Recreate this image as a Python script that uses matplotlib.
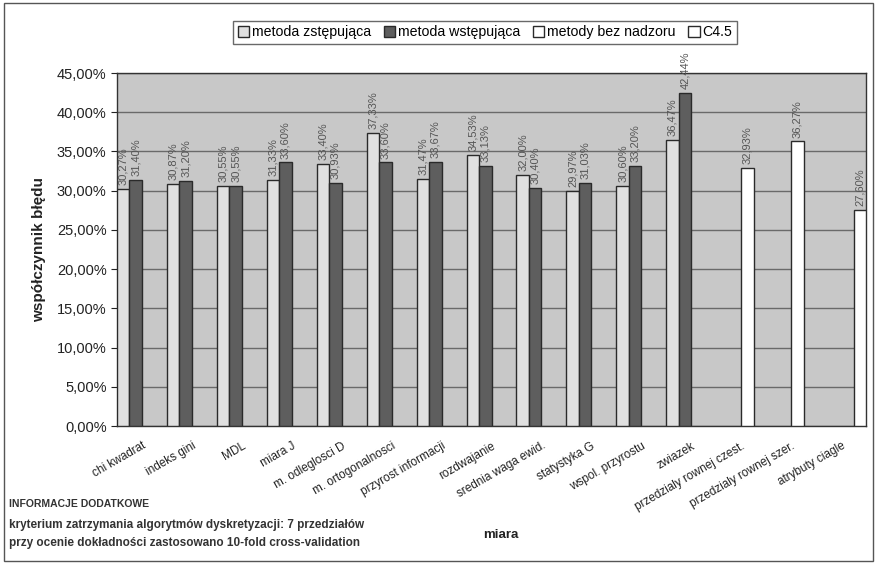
import numpy as np
import matplotlib
matplotlib.use('Agg')
import matplotlib.pyplot as plt
from matplotlib.patches import Rectangle
from matplotlib.ticker import FuncFormatter

plt.rcParams['font.family'] = ['Liberation Sans', 'DejaVu Sans']

miary = ['chi kwadrat', 'indeks gini', 'MDL', 'miara J', 'm. odleglosci D',
         'm. ortogonalnosci', 'przyrost informacji', 'rozdwajanie',
         'srednia waga ewid.', 'statystyka G', 'wspol. przyrostu', 'zwiazek',
         'przedzialy rownej czest.', 'przedzialy rownej szer.', 'atrybuty ciagle']

nan = np.nan
# wspolczynnik bledu w %
zstepujaca = [30.27, 30.87, 30.55, 31.33, 33.40, 37.33, 31.47, 34.53, 32.00, 29.97, 30.60, 36.47, nan, nan, nan]
wstepujaca = [31.40, 31.20, 30.55, 33.60, 30.93, 33.60, 33.67, 33.13, 30.40, 31.03, 33.20, 42.44, nan, nan, nan]
bez_nadzoru = [nan] * 12 + [32.93, 36.27, nan]
c45 = [nan] * 14 + [27.60]

serie = [
    ('metoda zstępująca', zstepujaca, '#e0e0e0'),
    ('metoda wstępująca', wstepujaca, '#5e5e5e'),
    ('metody bez nadzoru', bez_nadzoru, '#ffffff'),
    ('C4.5', c45, '#ffffff'),
]

fig = plt.figure(figsize=(8.77, 5.66), dpi=100)
fig.patch.set_facecolor('white')
fig.add_artist(Rectangle((0.004, 0.008), 0.992, 0.986, transform=fig.transFigure,
                         fill=False, edgecolor='#555555', linewidth=1.0))

ax = fig.add_axes([0.1334, 0.2473, 0.8541, 0.6237])
ax.set_facecolor('#c8c8c8')

x = np.arange(len(miary))
w = 0.25
for i, (nazwa, vals, kolor) in enumerate(serie):
    v = np.array(vals) / 100
    pos = x - 0.5 + w * (i + 0.5)
    ax.bar(pos, v, width=w, color=kolor, edgecolor='#2a2a2a', linewidth=1.0,
           label=nazwa, zorder=3)
    for p, val in zip(pos, vals):
        if np.isnan(val):
            continue
        ax.text(p, val / 100 + 0.005, f'{val:.2f}%'.replace('.', ','),
                rotation=90, ha='center', va='bottom', fontsize=8,
                color='#555555', zorder=4)

ax.set_xlim(-0.5, len(miary) - 0.5)
ax.set_ylim(0, 0.45)
ax.set_yticks(np.arange(0, 0.451, 0.05))
ax.yaxis.set_major_formatter(FuncFormatter(lambda v, _: f'{v * 100:.2f}%'.replace('.', ',')))
ax.yaxis.grid(True, color='#6a6a6a', linewidth=1.0, zorder=1)
ax.set_axisbelow(True)

ax.set_xticks(x)
ax.set_xticklabels(miary, rotation=30, ha='right', rotation_mode='anchor',
                   fontsize=8.5, color='#222222')
ax.tick_params(axis='x', length=0, pad=10)
ax.tick_params(axis='y', length=4, labelsize=10.5, colors='#222222', direction='out')

for s in ax.spines.values():
    s.set_color('#333333')
    s.set_linewidth(1.0)

ax.set_ylabel('współczynnik błędu', fontsize=11, fontweight='bold', labelpad=8,
              color='#222222')
fig.text(0.571, 0.050, 'miara', fontsize=9.5, fontweight='bold', ha='center',
         color='#222222')

fig.text(0.010, 0.105, 'INFORMACJE DODATKOWE', fontsize=7.5, fontweight='bold', color='#333333')
fig.text(0.010, 0.067, 'kryterium zatrzymania algorytmów dyskretyzacji: 7 przedziałów',
         fontsize=8.5, fontweight='bold', color='#333333')
fig.text(0.010, 0.035, 'przy ocenie dokładności zastosowano 10-fold cross-validation',
         fontsize=8.5, fontweight='bold', color='#333333')

leg = fig.legend(loc='upper center', bbox_to_anchor=(0.553, 0.975), ncol=4,
                 fontsize=10.2, frameon=True, fancybox=False, handlelength=0.8,
                 handleheight=0.8, handletextpad=0.2, columnspacing=0.9,
                 borderpad=0.3, edgecolor='#444444')
leg.get_frame().set_linewidth(1.0)

fig.savefig('out.png', dpi=100)
